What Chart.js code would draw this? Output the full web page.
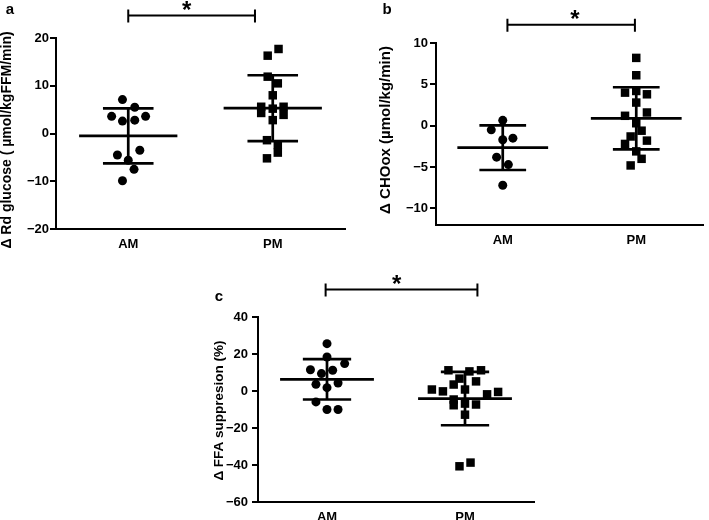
<!DOCTYPE html>
<html>
<head>
<meta charset="utf-8">
<script src="https://cdn.jsdelivr.net/npm/chart.js@4"></script>
<style>
  body { margin: 0; background: #fff; width: 709px; height: 520px; position: relative; overflow: hidden; }
  canvas { position: absolute; }
</style>
</head>
<body>
<canvas id="cA" width="355" height="260" style="left:0;top:0"></canvas>
<canvas id="cB" width="349" height="260" style="left:360px;top:0"></canvas>
<canvas id="cC" width="360" height="275" style="left:180px;top:262px"></canvas>
<script>
// ── data ─────────────────────────────────────────────────────────────
const categories = ["AM", "PM"];

// a — Δ Rd glucose
const rdAM = [7.1, 5.5, 3.6, 2.6, 2.8, 3.6, -4.5, -3.5, -5.6, -7.5, -9.9];
const rdAMx = [-0.04, 0.045, -0.115, -0.04, 0.045, 0.12, -0.075, 0.08, 0, 0.04, -0.04];
const rdPM = [17.7, 16.3, 11.9, 10.5, 8.0, 5.6, 4.3, 5.2, 5.6, 3.9, 2.8, -1.4, -2.4, -4.0, -5.2];
const rdPMx = [0.04, -0.035, -0.035, 0.035, 0, -0.08, -0.08, 0, 0.075, 0.075, 0, -0.04, 0.035, 0.035, -0.04];
const rdMean = [-0.5, 5.3];
const rdSD = [5.75, 6.9];
const rdTicks = [-20, -10, 0, 10, 20];
const rdTickLabels = ["−20", "−10", "0", "10", "20"];

// b — Δ CHOox
const choAM = [0.65, -0.5, -1.7, -1.5, -3.8, -4.7, -7.2];
const choAMx = [0, -0.086, 0, 0.076, -0.046, 0.042, 0];
const choPM = [8.2, 6.1, 4.0, 4.2, 3.8, 2.8, 1.6, 1.2, 0.3, -0.6, -1.3, -1.8, -2.2, -3.1, -4.0, -4.8];
const choPMx = [0, 0, -0.084, 0, 0.08, 0, 0.08, -0.084, 0, 0.04, -0.042, 0.08, -0.084, 0, 0.04, -0.042];
const choMean = [-2.65, 0.9];
const choSD = [2.7, 3.75];
const choTicks = [-10, -5, 0, 5, 10];
const choTickLabels = ["−10", "−5", "0", "5", "10"];

// c — Δ FFA suppresion
const ffaAM = [25.6, 18.4, 14.8, 11.5, 9.4, 11.2, 3.6, 1.8, 4.3, -5.9, -10, -10];
const ffaAMx = [0, 0, 0.128, -0.12, -0.04, 0.041, -0.08, 0, 0.08, -0.08, 0, 0.08];
const ffaPM = [11.2, 10.6, 11.2, 6.7, 5.2, 3.5, 0.8, 0.8, -0.2, -1.8, -0.5, -4.6, -7.7, -6.8, -7.3, -12.8, -40.7, -38.7];
const ffaPMx = [-0.12, 0.032, 0.116, -0.04, 0.08, -0.082, 0, -0.24, -0.16, 0.16, 0.24, -0.082, -0.082, 0, 0.08, 0, -0.04, 0.04];
const ffaMean = [6.3, -4.1];
const ffaSD = [10.9, 14.4];
const ffaTicks = [-60, -40, -20, 0, 20, 40];
const ffaTickLabels = ["−60", "−40", "−20", "0", "20", "40"];

// ── style ────────────────────────────────────────────────────────────
const FONT = "'Liberation Sans', Arial, sans-serif";
Chart.defaults.font.family = FONT;
Chart.defaults.font.weight = "bold";
Chart.defaults.color = "#000";

const MEAN_W = 0.34;
const CAP_W = 0.175;

function points(vals, xs, cat, style, r) {
  return {
    type: "scatter",
    data: vals.map((v, i) => ({ x: cat + xs[i], y: v })),
    pointStyle: style,
    pointRadius: r,
    backgroundColor: "#000",
    borderWidth: 0,
  };
}

function errorBars(mean, sd) {
  const sets = [];
  mean.forEach((m, i) => {
    const c = i + 1;
    const segs = [
      [[c - MEAN_W, m], [c + MEAN_W, m]],
      [[c, m + sd[i]], [c, m - sd[i]]],
      [[c - CAP_W, m + sd[i]], [c + CAP_W, m + sd[i]]],
      [[c - CAP_W, m - sd[i]], [c + CAP_W, m - sd[i]]],
    ];
    segs.forEach((s) =>
      sets.push({
        type: "line",
        data: s.map(([x, y]) => ({ x, y })),
        borderColor: "#000",
        borderWidth: 2.7,
        borderCapStyle: "butt",
        pointRadius: 0,
        showLine: true,
      }),
    );
  });
  return sets;
}

// y title, significance bar, asterisk and panel letter
const annot = {
  id: "annot",
  afterDraw(chart, args, o) {
    const { ctx, chartArea, scales: { x, y } } = chart;
    const x1 = x.getPixelForValue(o.sig[0]);
    const x2 = x.getPixelForValue(o.sig[1]);
    const yb = y.getPixelForValue(o.sig[2]);
    ctx.save();
    ctx.strokeStyle = "#000";
    ctx.fillStyle = "#000";
    ctx.lineWidth = 2;
    ctx.beginPath();
    ctx.moveTo(x1, yb); ctx.lineTo(x2, yb);
    ctx.moveTo(x1, yb - 6); ctx.lineTo(x1, yb + 7);
    ctx.moveTo(x2, yb - 6); ctx.lineTo(x2, yb + 7);
    ctx.stroke();
    ctx.textAlign = "center";
    ctx.textBaseline = "middle";
    ctx.font = `bold 24px ${FONT}`;
    ctx.fillText("*", x.getPixelForValue(o.star), yb - 4);
    ctx.font = `bold 15px ${FONT}`;
    ctx.fillText(o.letter, o.letterAt[0], o.letterAt[1]);
    // rotated y title
    ctx.translate(o.titleX, (chartArea.top + chartArea.bottom) / 2 + o.titleDy);
    ctx.rotate(-Math.PI / 2);
    ctx.font = `bold ${o.titleSize}px ${FONT}`;
    ctx.fillText(o.title, 0, 0);
    ctx.restore();
  },
};

function makePanel(id, p) {
  new Chart(document.getElementById(id), {
    type: "scatter",
    data: {
      datasets: [
        points(p.am, p.amX, 1, "circle", 4.5),
        points(p.pm, p.pmX, 2, "rect", 6),
        ...errorBars(p.mean, p.sd),
      ],
    },
    plugins: [annot],
    options: {
      responsive: false,
      animation: false,
      events: [],
      layout: { padding: { top: p.top, right: p.right, left: 0, bottom: 0 } },
      plugins: {
        legend: { display: false },
        tooltip: { enabled: false },
        annot: p,
      },
      scales: {
        x: {
          type: "linear",
          min: 0.5,
          max: 2.5,
          afterBuildTicks: (ax) => { ax.ticks = [1, 2].map((v) => ({ value: v })); },
          afterFit: (ax) => { ax.height = p.xH; },
          ticks: { callback: (v) => categories[v - 1], font: { size: 13 }, padding: 8, maxRotation: 0 },
          grid: { display: false, drawTicks: false },
          border: { display: true, color: "#000", width: 2 },
        },
        y: {
          min: p.min,
          max: p.max,
          afterBuildTicks: (ax) => { ax.ticks = p.ticks.map((v) => ({ value: v })); },
          afterFit: (ax) => { ax.width = p.yW; },
          ticks: { callback: (v) => p.tickLabels[p.ticks.indexOf(v)], font: { size: 13 }, padding: p.tickPad },
          grid: { drawOnChartArea: false, tickLength: 6, lineWidth: 2, color: "#000" },
          border: { display: true, color: "#000", width: 2 },
        },
      },
    },
  });
}

makePanel("cA", {
  am: rdAM, amX: rdAMx, pm: rdPM, pmX: rdPMx, mean: rdMean, sd: rdSD,
  min: -20, max: 20, ticks: rdTicks, tickLabels: rdTickLabels,
  title: "Δ Rd glucose ( µmol/kgFFM/min)", titleX: 7, titleDy: 6.5, titleSize: 14,
  top: 38, right: 10, yW: 56, xH: 31, tickPad: 1,
  sig: [1, 1.877, 24.7], star: 1.404, letter: "a", letterAt: [10, 10],
});

makePanel("cB", {
  am: choAM, amX: choAMx, pm: choPM, pmX: choPMx, mean: choMean, sd: choSD,
  min: -12, max: 10, ticks: choTicks, tickLabels: choTickLabels,
  title: "Δ CHOox (µmol/kg/min)", titleX: 26, titleDy: -4, titleSize: 15,
  top: 43, right: 1, yW: 76, xH: 35, tickPad: 2,
  sig: [1.035, 1.99, 12.2], star: 1.541, letter: "b", letterAt: [27, 10],
});

makePanel("cC", {
  am: ffaAM, amX: ffaAMx, pm: ffaPM, pmX: ffaPMx, mean: ffaMean, sd: ffaSD,
  min: -60, max: 40, ticks: ffaTicks, tickLabels: ffaTickLabels,
  title: "Δ FFA suppresion (%)", titleX: 39, titleDy: 1, titleSize: 13.5,
  top: 55, right: 5, yW: 78, xH: 35, tickPad: 4,
  sig: [0.99, 2.09, 54.8], star: 1.504, letter: "c", letterAt: [39, 35],
});
</script>
</body>
</html>
